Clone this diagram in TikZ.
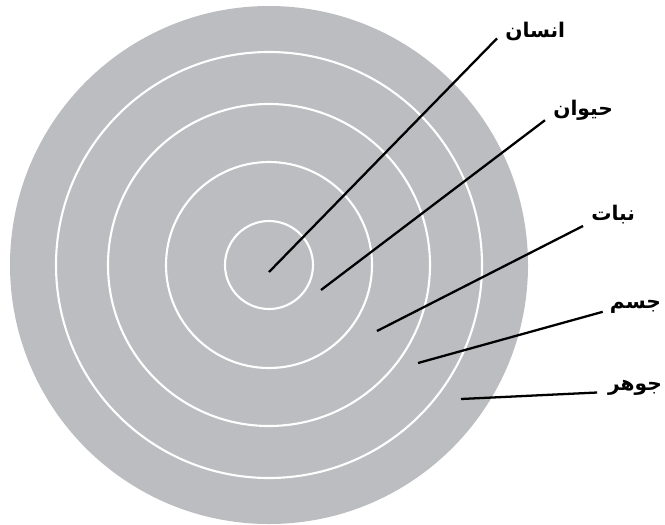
\documentclass[tikz,border=0pt]{standalone}
\usepackage{fontspec}
\newfontfamily\arabicfont[Script=Arabic,BoldFont={DejaVu Sans Bold}]{DejaVu Sans}
\TeXXeTstate=1
\usetikzlibrary{positioning}
\definecolor{disc}{HTML}{BCBDC0}
\definecolor{ink}{HTML}{000000}
\tikzset{
  ring/.style={draw=white,line width=1.2pt},
  tag/.style={font=\arabicfont\bfseries\fontsize{11.5}{13}\selectfont,text=ink,inner xsep=4.5pt,inner ysep=1pt,anchor=west},
  pointer/.style={draw=ink,line width=1.3pt}
}

\begin{document}
\begin{tikzpicture}[x=0.02cm,y=-0.02cm]
    \useasboundingbox (0,0) rectangle (665,524);
    % disc and rings
    \fill[disc] (269,265) circle (259);
    \foreach \r in {44,103,161,213}
      \draw[ring] (269,265) circle (\r);
    % inner ends
    \coordinate (cInsan) at (269,272);
    \coordinate (cHayvan) at (321,290);
    \coordinate (cNabat) at (377,331);
    \coordinate (cJesm) at (418,363);
    \coordinate (cJowhar) at (461,399);
    % labels
    \node[tag] (lInsan) at (497,31) {\beginR انسان\endR};
    \node[tag] (lHayvan) at (545,110) {\beginR حیوان\endR};
    \node[tag] (lNabat) at (583,215) {\beginR نبات\endR};
    \node[tag,anchor=east,inner xsep=1pt] (lJesm) at (663,307) {\beginR جسم\endR};
    \node[tag,anchor=east,inner xsep=1pt] (lJowhar) at (664,388) {\beginR جوهر\endR};
    % pointers
    \draw[pointer] (cInsan) -- (lInsan.191);
    \draw[pointer] (cHayvan) -- (lHayvan.195);
    \draw[pointer] (cNabat) -- (lNabat.200);
    \draw[pointer,shorten >=3pt] (cJesm) -- (lJesm.187);
    \draw[pointer,shorten >=5pt] (cJowhar) -- (lJowhar.188);
\end{tikzpicture}
\end{document}
